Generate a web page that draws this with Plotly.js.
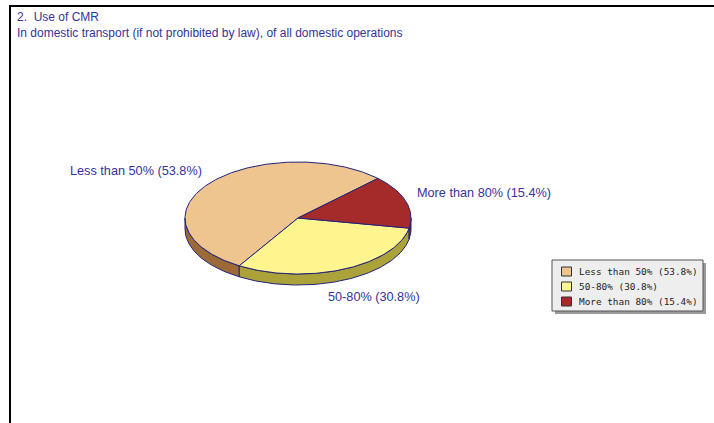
<!DOCTYPE html>
<html>
<head>
<meta charset="utf-8">
<script src="https://cdn.plot.ly/plotly-3.0.1.min.js"></script>
<style>
html,body{margin:0;padding:0;background:#fff;}
#chart{width:714px;height:423px;}
</style>
</head>
<body>
<div id="chart"></div>
<script>
// ---- data ----
const categories = ['Less than 50%', '50-80%', 'More than 80%'];
const shares = [53.8, 30.8, 15.4];
const titleLine1 = '2.\u00a0 Use of CMR';
const titleLine2 = 'In domestic transport (if not prohibited by law), of all domestic operations';

// ---- styles / geometry ----
const topColors = ['#EEC48F', '#FFF58F', '#A52A2A'];
const sideColors = ['#9C6A36', '#ABA23A', '#6A1A1A'];
const edgeColor = '#22227A';
const textColor = '#333399';
const geo = {cx: 298, cy: 218, rx: 113, ry: 56, depth: 11, start: 45};

const labels = categories.map((c, i) => c + ' (' + shares[i].toFixed(1) + '%)');
const total = shares.reduce((a, b) => a + b, 0);

function pt(thDeg, dy) {
  const t = thDeg * Math.PI / 180;
  return [geo.cx + geo.rx * Math.cos(t), geo.cy + geo.ry * Math.sin(t) + dy];
}
function arc(from, to, dy) {
  const pts = [];
  const n = Math.max(2, Math.ceil(Math.abs(to - from)));
  for (let k = 0; k <= n; k++) pts.push(pt(from + (to - from) * k / n, dy));
  return pts;
}

const sideTraces = [], topTraces = [];
let cum = 0;
shares.forEach((v, i) => {
  const a0 = geo.start + 360 * cum / total;
  const a1 = a0 + 360 * v / total;
  cum += v;
  const s0 = -a1, s1 = -a0;
  for (let k = -2; k <= 2; k++) {
    const lo = Math.max(s0, k * 360), hi = Math.min(s1, k * 360 + 180);
    if (lo < hi) {
      const pts = arc(lo, hi, 0).concat(arc(hi, lo, geo.depth));
      pts.push(pts[0]);
      sideTraces.push({
        type: 'scatter', mode: 'lines', fill: 'toself',
        x: pts.map(p => p[0]), y: pts.map(p => p[1]),
        fillcolor: sideColors[i], line: {color: edgeColor, width: 1},
        hoverinfo: 'skip', showlegend: false
      });
    }
  }
  const top = [[geo.cx, geo.cy]].concat(arc(s1, s0, 0));
  top.push([geo.cx, geo.cy]);
  topTraces.push({
    type: 'scatter', mode: 'lines', fill: 'toself',
    x: top.map(p => p[0]), y: top.map(p => p[1]),
    fillcolor: topColors[i], line: {color: edgeColor, width: 1},
    name: labels[i], hoverinfo: 'name', showlegend: false
  });
});

const labelPos = [[136, 171], [374, 297], [484, 193]];
const annotations = labels.map((t, i) => ({
  x: labelPos[i][0], y: labelPos[i][1], xref: 'x', yref: 'y',
  text: t, showarrow: false, xanchor: 'center', yanchor: 'middle',
  font: {family: 'Liberation Sans, Arial, sans-serif', size: 12.7, color: textColor}
}));

const shapes = [
  {type: 'line', xref: 'x', yref: 'y', x0: 10, x1: 10, y0: 6, y1: 423, line: {color: '#000', width: 2}},
  {type: 'line', xref: 'x', yref: 'y', x0: 9, x1: 714, y0: 6, y1: 6, line: {color: '#000', width: 2}},
  {type: 'rect', xref: 'x', yref: 'y', x0: 555, x1: 706, y0: 263, y1: 314, fillcolor: '#9a9a9a', line: {width: 0}},
  {type: 'rect', xref: 'x', yref: 'y', x0: 552, x1: 703, y0: 260, y1: 311, fillcolor: '#eeeeee', line: {color: '#555555', width: 1}}
];
labels.forEach((t, i) => {
  const yc = 271.5 + 15 * i;
  shapes.push({type: 'rect', xref: 'x', yref: 'y', x0: 561.5, x1: 571.5, y0: yc - 4.5, y1: yc + 4.5,
    fillcolor: topColors[i], line: {color: '#333333', width: 1}});
  annotations.push({x: 577, y: yc, xref: 'x', yref: 'y', text: t, showarrow: false,
    xanchor: 'left', yanchor: 'middle',
    font: {family: 'DejaVu Sans Mono, monospace', size: 9.4, color: '#222222'}});
});

const layout = {
  width: 714, height: 423,
  margin: {l: 0, r: 0, t: 0, b: 0},
  paper_bgcolor: '#ffffff', plot_bgcolor: '#ffffff',
  xaxis: {range: [0, 714], visible: false, fixedrange: true},
  yaxis: {range: [423, 0], visible: false, fixedrange: true},
  title: {
    text: titleLine1 + '<br>' + titleLine2,
    x: 17 / 714, xref: 'paper', xanchor: 'left',
    y: 1 - 21 / 423, yref: 'container', yanchor: 'top',
    font: {family: 'Liberation Sans, Arial, sans-serif', size: 12, color: textColor}
  },
  showlegend: false,
  annotations: annotations,
  shapes: shapes
};

Plotly.newPlot('chart', sideTraces.concat(topTraces), layout, {displayModeBar: false, staticPlot: true});
</script>
</body>
</html>
